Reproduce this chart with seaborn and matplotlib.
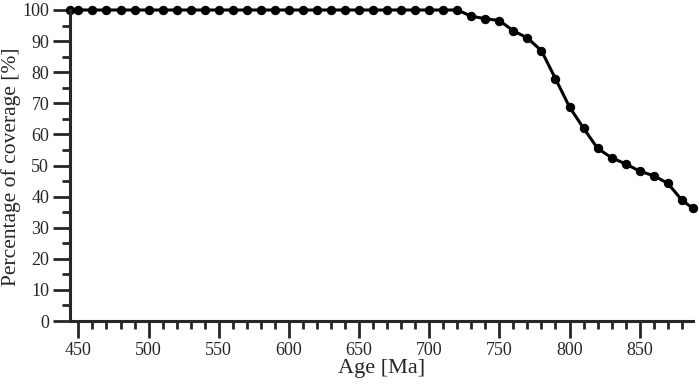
import numpy as np
import pandas as pd
import matplotlib
matplotlib.use("Agg")
import matplotlib.pyplot as plt
import seaborn as sns
from matplotlib.ticker import MultipleLocator

# values
age = [444, 450, 460, 470, 480, 490, 500, 510, 520, 530, 540, 550, 560, 570,
       580, 590, 600, 610, 620, 630, 640, 650, 660, 670, 680, 690, 700, 710,
       720, 730, 740, 750, 760, 770, 780, 790, 800, 810, 820, 830, 840, 850,
       860, 870, 880, 888]
coverage = [100, 100, 100, 100, 100, 100, 100, 100, 100, 100, 100, 100, 100, 100,
            100, 100, 100, 100, 100, 100, 100, 100, 100, 100, 100, 100, 100, 100,
            100, 98.0, 97.2, 96.6, 93.3, 91.0, 86.9, 77.9, 68.8, 62.0, 55.5, 52.5,
            50.5, 48.2, 46.7, 44.3, 38.9, 36.2]

df = pd.DataFrame({"age": age, "coverage": coverage})

sns.set_style("ticks")
plt.rcParams["font.family"] = ["Liberation Serif", "DejaVu Serif"]

fig = plt.figure(figsize=(6.99, 3.86), dpi=100)
ax = fig.add_axes([70 / 699, 1 - 321 / 386, (693 - 70) / 699, (321 - 10) / 386])

sns.lineplot(data=df, x="age", y="coverage", ax=ax, color="black", linewidth=2.2,
             marker="o", markersize=6, markeredgecolor="black", clip_on=False)

ax.set_xlim(444, 888)
ax.set_ylim(0, 100)
ax.xaxis.set_major_locator(MultipleLocator(50))
ax.xaxis.set_minor_locator(MultipleLocator(10))
ax.yaxis.set_major_locator(MultipleLocator(10))
ax.yaxis.set_minor_locator(MultipleLocator(5))

for s in ["top", "right"]:
    ax.spines[s].set_visible(False)
for s in ["left", "bottom"]:
    ax.spines[s].set_linewidth(2.2)

ax.tick_params(which="major", direction="out", length=12, width=2, labelsize=13, pad=3)
ax.tick_params(which="minor", direction="out", length=6, width=2)

ax.set_xlabel("Age [Ma]", fontsize=16, labelpad=0)
ax.set_ylabel("Percentage of coverage [%]", fontsize=15.5)
ax.yaxis.set_label_coords(-0.079, 0.495)

fig.savefig("out.png", dpi=100)
